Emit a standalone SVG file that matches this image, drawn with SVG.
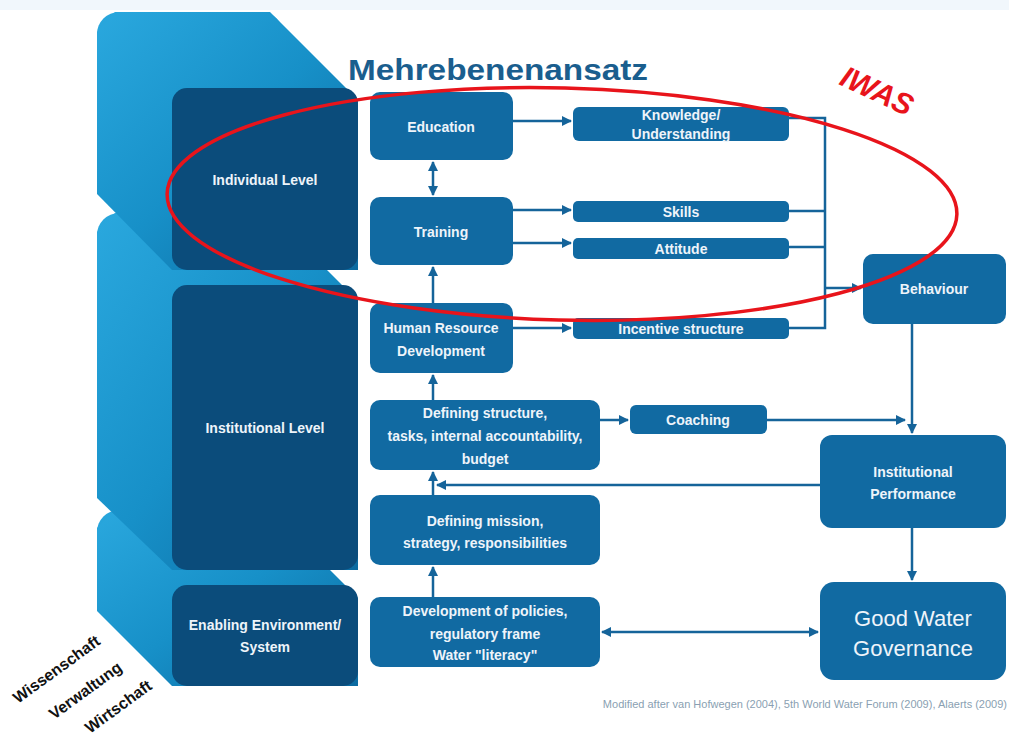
<svg xmlns="http://www.w3.org/2000/svg" width="1009" height="736" viewBox="0 0 1009 736">
<defs>
<linearGradient id="slab" x1="0" y1="0" x2="1" y2="1">
<stop offset="0" stop-color="#2aa8de"/>
<stop offset="0.5" stop-color="#1790c8"/>
<stop offset="1" stop-color="#0b6aa0"/>
</linearGradient>
<marker id="ah" viewBox="0 0 10 10" refX="9" refY="5" markerWidth="4" markerHeight="4" orient="auto-start-reverse">
<path d="M0,0 L10,5 L0,10 z" fill="#15649a"/>
</marker>
<style>
.box{fill:#116aa2}
.front{fill:#0b4c7b}
.t{font-family:"Liberation Sans",Arial,sans-serif;font-weight:bold;font-size:14px;fill:#eef4fa;text-anchor:middle}
.c{fill:none;stroke:#15649a;stroke-width:2.5}
.rot{font-family:"Liberation Sans",Arial,sans-serif;font-weight:bold;font-size:16px;fill:#111}
</style>
</defs>
<rect width="1009" height="736" fill="#ffffff"/>
<rect width="1009" height="10" fill="#f1f7fc"/>

<g id="block-enabling">
<rect x="97" y="510" width="186" height="101" rx="22" fill="url(#slab)"/>
<polygon points="270,510 358,598 358,686 172,686 97,611 97,528 115,510" fill="url(#slab)"/>
<rect class="front" x="172" y="585" width="186" height="101" rx="15"/>
<text class="t" x="265" y="630">Enabling Environment/</text>
<text class="t" x="265" y="652">System</text>
</g>
<g id="block-institutional">
<rect x="97" y="213" width="186" height="285" rx="22" fill="url(#slab)"/>
<polygon points="270,213 358,301 358,570 172,570 97,498 97,232 115,213" fill="url(#slab)"/>
<rect class="front" x="172" y="285" width="186" height="285" rx="15"/>
<text class="t" x="265" y="433">Institutional Level</text>
</g>
<g id="block-individual">
<rect x="97" y="12" width="186" height="182" rx="22" fill="url(#slab)"/>
<polygon points="270,12 358,100 358,270 172,270 97,194 97,32 115,12" fill="url(#slab)"/>
<rect class="front" x="172" y="88" width="186" height="182" rx="15"/>
<text class="t" x="265" y="185">Individual Level</text>
</g>

<text x="348" y="80" font-family="'Liberation Sans',Arial,sans-serif" font-weight="bold" font-size="29" fill="#1a5e8e" textLength="300" lengthAdjust="spacingAndGlyphs">Mehrebenenansatz</text>

<g id="connectors">
<line class="c" x1="513" y1="121" x2="571" y2="121" marker-end="url(#ah)"/>
<line class="c" x1="433" y1="162" x2="433" y2="195" marker-start="url(#ah)" marker-end="url(#ah)"/>
<line class="c" x1="513" y1="210" x2="571" y2="210" marker-end="url(#ah)"/>
<line class="c" x1="513" y1="243" x2="571" y2="243" marker-end="url(#ah)"/>
<line class="c" x1="433" y1="303" x2="433" y2="267" marker-end="url(#ah)"/>
<line class="c" x1="513" y1="328" x2="571" y2="328" marker-end="url(#ah)"/>
<line class="c" x1="433" y1="400" x2="433" y2="375" marker-end="url(#ah)"/>
<line class="c" x1="600" y1="420" x2="628" y2="420" marker-end="url(#ah)"/>
<line class="c" x1="767" y1="420" x2="905" y2="420" marker-end="url(#ah)"/>
<polyline class="c" points="789,118 825,118 825,328 789,328"/>
<line class="c" x1="789" y1="211" x2="825" y2="211"/>
<line class="c" x1="789" y1="247" x2="825" y2="247"/>
<line class="c" x1="825" y1="288" x2="861" y2="288" marker-end="url(#ah)"/>
<line class="c" x1="912" y1="324" x2="912" y2="433" marker-end="url(#ah)"/>
<line class="c" x1="820" y1="485" x2="437" y2="485" marker-end="url(#ah)"/>
<line class="c" x1="433" y1="495" x2="433" y2="472" marker-end="url(#ah)"/>
<line class="c" x1="433" y1="597" x2="433" y2="567" marker-end="url(#ah)"/>
<line class="c" x1="912" y1="528" x2="912" y2="580" marker-end="url(#ah)"/>
<line class="c" x1="602" y1="632" x2="818" y2="632" marker-start="url(#ah)" marker-end="url(#ah)"/>
</g>

<g id="education"><rect class="box" x="370" y="92" width="143" height="68" rx="10"/><text class="t" x="441" y="132">Education</text></g>
<g id="training"><rect class="box" x="370" y="197" width="143" height="68" rx="10"/><text class="t" x="441" y="237">Training</text></g>
<g id="hrd"><rect class="box" x="370" y="303" width="143" height="70" rx="10"/><text class="t" x="441" y="333">Human Resource</text><text class="t" x="441" y="356">Development</text></g>
<g id="structure"><rect class="box" x="370" y="400" width="230" height="70" rx="10"/><text class="t" x="485" y="418">Defining structure,</text><text class="t" x="485" y="441">tasks, internal accountability,</text><text class="t" x="485" y="464">budget</text></g>
<g id="mission"><rect class="box" x="370" y="495" width="230" height="70" rx="10"/><text class="t" x="485" y="526">Defining mission,</text><text class="t" x="485" y="548">strategy, responsibilities</text></g>
<g id="policies"><rect class="box" x="370" y="597" width="230" height="70" rx="10"/><text class="t" x="485" y="616">Development of policies,</text><text class="t" x="485" y="639">regulatory frame</text><text class="t" x="485" y="660">Water "literacy"</text></g>
<g id="knowledge"><rect class="box" x="573" y="107" width="216" height="34" rx="6"/><text class="t" x="681" y="120">Knowledge/</text><text class="t" x="681" y="139">Understanding</text></g>
<g id="skills"><rect class="box" x="573" y="201" width="216" height="21" rx="5"/><text class="t" x="681" y="217">Skills</text></g>
<g id="attitude"><rect class="box" x="573" y="238" width="216" height="21" rx="5"/><text class="t" x="681" y="254">Attitude</text></g>
<g id="incentive"><rect class="box" x="573" y="318" width="216" height="21" rx="5"/><text class="t" x="681" y="334">Incentive structure</text></g>
<g id="coaching"><rect class="box" x="630" y="405" width="137" height="29" rx="6"/><text class="t" x="698" y="425">Coaching</text></g>
<g id="behaviour"><rect class="box" x="863" y="254" width="143" height="70" rx="10"/><text class="t" x="934" y="294">Behaviour</text></g>
<g id="performance"><rect class="box" x="820" y="435" width="186" height="93" rx="12"/><text class="t" x="913" y="477">Institutional</text><text class="t" x="913" y="499">Performance</text></g>
<g id="governance"><rect class="box" x="820" y="582" width="186" height="98" rx="14"/><text class="t" x="913" y="626" style="font-size:22px;font-weight:normal">Good Water</text><text class="t" x="913" y="656" style="font-size:22px;font-weight:normal">Governance</text></g>

<ellipse cx="562" cy="204" rx="395" ry="116" fill="none" stroke="#e8141b" stroke-width="3.5" transform="rotate(1.5 562 204)"/>
<text x="0" y="0" transform="translate(838,84) rotate(25)" font-family="'Liberation Sans',Arial,sans-serif" font-weight="bold" font-style="italic" font-size="30" fill="#e8141b">IWAS</text>

<text class="rot" transform="translate(18,704) rotate(-36)">Wissenschaft</text>
<text class="rot" transform="translate(54,720) rotate(-36)">Verwaltung</text>
<text class="rot" transform="translate(90,734) rotate(-36)">Wirtschaft</text>

<text x="1007" y="708" text-anchor="end" font-family="'Liberation Sans',Arial,sans-serif" font-size="11" fill="#8a9fb2">Modified after van Hofwegen (2004), 5th World Water Forum (2009), Alaerts (2009)</text>
</svg>
